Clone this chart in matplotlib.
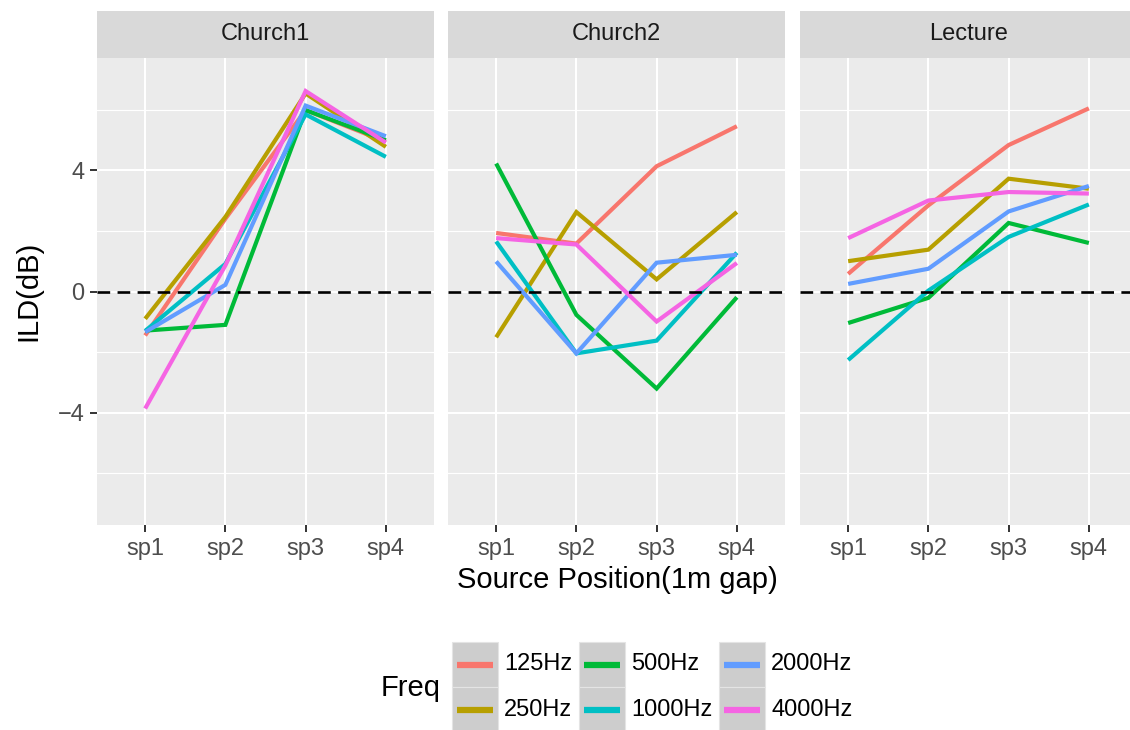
import matplotlib
matplotlib.use("Agg")
import matplotlib.pyplot as plt
from matplotlib.patches import Rectangle

plt.rcParams['font.family'] = ['Liberation Sans', 'DejaVu Sans']

positions = ["sp1", "sp2", "sp3", "sp4"]
rooms = ["Church1", "Church2", "Lecture"]
freqs = ["125Hz", "250Hz", "500Hz", "1000Hz", "2000Hz", "4000Hz"]
colors = ["#F8766D", "#B79F00", "#00BA38", "#00BFC4", "#619CFF", "#F564E3"]

# ILD (dB) per room, per frequency band, at sp1..sp4
church1 = {
    "125Hz":  [-1.45, 2.40, 5.98, 4.94],
    "250Hz":  [-0.90, 2.46, 6.53, 4.77],
    "500Hz":  [-1.29, -1.10, 5.98, 4.99],
    "1000Hz": [-1.30, 0.91, 5.84, 4.44],
    "2000Hz": [-1.34, 0.22, 6.13, 5.12],
    "4000Hz": [-3.86, 0.86, 6.61, 4.91],
}
church2 = {
    "125Hz":  [1.93, 1.58, 4.13, 5.45],
    "250Hz":  [-1.51, 2.62, 0.40, 2.62],
    "500Hz":  [4.22, -0.77, -3.20, -0.19],
    "1000Hz": [1.65, -2.04, -1.62, 1.28],
    "2000Hz": [0.99, -2.04, 0.95, 1.21],
    "4000Hz": [1.76, 1.55, -0.99, 0.94],
}
lecture = {
    "125Hz":  [0.58, 2.84, 4.83, 6.04],
    "250Hz":  [1.00, 1.38, 3.72, 3.39],
    "500Hz":  [-1.04, -0.21, 2.26, 1.60],
    "1000Hz": [-2.26, 0.03, 1.80, 2.87],
    "2000Hz": [0.25, 0.75, 2.64, 3.48],
    "4000Hz": [1.76, 3.00, 3.28, 3.23],
}
room_data = [church1, church2, lecture]

y_major = [-4, 0, 4]
y_minor = [-6, -2, 2, 6]

W, H = 1130, 730
fig = plt.figure(figsize=(W / 100, H / 100), dpi=100)

panel_left = [97, 448, 800]
panel_w = 337
panel_top, panel_bottom = 58, 525
strip_top = 11

tick_fs = 17
title_fs = 21

for i, (room, data) in enumerate(zip(rooms, room_data)):
    ax = fig.add_axes([panel_left[i] / W, (H - panel_bottom) / H,
                       panel_w / W, (panel_bottom - panel_top) / H])
    ax.set_facecolor("#EBEBEB")
    for s in ax.spines.values():
        s.set_visible(False)
    xs = list(range(1, len(positions) + 1))
    ax.set_xlim(0.4, len(positions) + 0.6)
    ax.set_ylim(-7.7, 7.7)
    ax.set_xticks(xs)
    ax.set_xticklabels(positions)
    ax.set_yticks(y_major)
    ax.set_yticks(y_minor, minor=True)
    if i == 0:
        ax.set_yticklabels(["\u22124", "0", "4"])
    else:
        ax.tick_params(axis="y", which="both", left=False, labelleft=False)
    ax.tick_params(axis="y", which="minor", left=False)
    ax.tick_params(axis="both", which="major", length=5, width=1.4,
                   color="#333333", labelcolor="#4D4D4D", labelsize=tick_fs, pad=4)
    ax.grid(True, which="major", color="white", linewidth=1.5)
    ax.grid(True, which="minor", axis="y", color="white", linewidth=0.8)
    ax.set_axisbelow(True)

    for f, c in zip(freqs, colors):
        ax.plot(xs, data[f], color=c, linewidth=3.0, solid_capstyle="butt",
                solid_joinstyle="miter", zorder=3)
    ax.axhline(0, color="black", linewidth=1.9, linestyle=(0, (4.8, 2.8)), zorder=4)

    # facet strip
    sax = fig.add_axes([panel_left[i] / W, (H - panel_top) / H,
                        panel_w / W, (panel_top - strip_top) / H])
    sax.set_facecolor("#D9D9D9")
    sax.set_xticks([])
    sax.set_yticks([])
    for s in sax.spines.values():
        s.set_visible(False)
    sax.text(0.5, 0.5, room, ha="center", va="center", fontsize=tick_fs,
             color="#1A1A1A", transform=sax.transAxes)

# axis titles
fig.text(28 / W, 1 - 291 / H, "ILD(dB)", rotation=90, ha="center", va="center",
         fontsize=title_fs, color="black")
fig.text(617 / W, 1 - 580 / H, "Source Position(1m gap)", ha="center", va="center",
         fontsize=title_fs, color="black")

# legend drawn in pixel space
lax = fig.add_axes([0, 0, 1, 1])
lax.set_xlim(0, W)
lax.set_ylim(H, 0)
lax.axis("off")
lax.text(411, 688, "Freq", ha="center", va="center", fontsize=title_fs, color="black")
col_left = [452, 579, 719]
row_top = [642, 687]
key_w, key_h = 46, 45
for k, (f, c) in enumerate(zip(freqs, colors)):
    col, row = divmod(k, 2)
    x0, y0 = col_left[col], row_top[row]
    lax.add_patch(Rectangle((x0, y0), key_w, key_h, facecolor="#CDCDCD",
                            edgecolor="#E4E4E4", linewidth=0.8))
    lax.plot([x0 + 5, x0 + key_w - 5], [y0 + key_h / 2, y0 + key_h / 2],
             color=c, linewidth=4.5, solid_capstyle="butt")
    lax.text(x0 + key_w + 6, y0 + key_h / 2, f, ha="left", va="center",
             fontsize=tick_fs, color="black")

fig.savefig("out.png", dpi=100)
